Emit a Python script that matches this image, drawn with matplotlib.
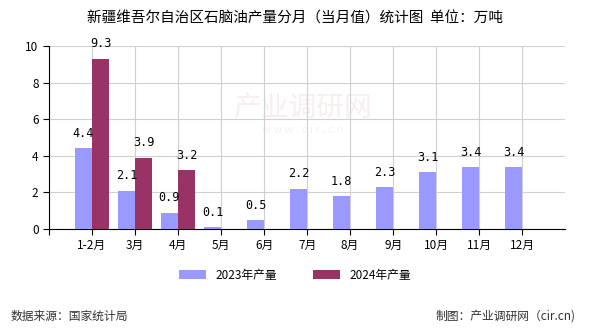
import matplotlib
matplotlib.use("Agg")
import matplotlib.pyplot as plt
import numpy as np

plt.rcParams['font.family'] = ['Noto Sans CJK SC', 'DejaVu Sans']

months = ["1-2月", "3月", "4月", "5月", "6月", "7月", "8月", "9月", "10月", "11月", "12月"]
y2023 = [4.4, 2.1, 0.9, 0.1, 0.5, 2.2, 1.8, 2.3, 3.1, 3.4, 3.4]
y2024 = [9.3, 3.9, 3.2]

c23 = "#9999FF"
c24 = "#993366"

fig = plt.figure(figsize=(5.9, 3.3), dpi=100)
ax = fig.add_axes([0.083, 0.306, 0.875, 0.555])

x = np.arange(len(months))
w = 0.4
b1 = ax.bar(x - w / 2, y2023, w, color=c23, label="2023年产量", zorder=3)
b2 = ax.bar(np.arange(len(y2024)) + w / 2, y2024, w, color=c24, label="2024年产量", zorder=3)

for xi, v in zip(x - w / 2, y2023):
    ax.text(xi, v + 0.45, f"{v}", ha="center", va="bottom", fontsize=8.5,
            family="DejaVu Sans Mono", zorder=4)
for xi, v in zip(np.arange(len(y2024)) + w / 2, y2024):
    ax.text(xi, v + 0.45, f"{v}", ha="center", va="bottom", fontsize=8.5,
            family="DejaVu Sans Mono", zorder=4)

# faint watermark
ax.text(4.9, 6.6, "产业调研网", fontsize=20, color="#f8eeee", ha="center",
        va="center", zorder=1)
ax.text(4.9, 5.4, "w w w . c i r . c n", fontsize=8, color="#f3f3f6",
        ha="center", va="center", zorder=1)

ax.set_xlim(-1, 11)
ax.set_ylim(0, 10)
ax.set_yticks([0, 2, 4, 6, 8, 10])
ax.set_xticks(np.arange(-1, len(months)))
ax.set_xticklabels([""] + months)
ax.tick_params(labelsize=8.5, length=4, color="black")
ax.grid(True, color="#d0d0d0", lw=0.8, zorder=0)
for s in ["top", "right"]:
    ax.spines[s].set_visible(False)

fig.legend(handles=[b1, b2], loc="center", bbox_to_anchor=(0.5, 0.165), ncol=2,
           frameon=False, fontsize=8.5, handlelength=2.3, handleheight=0.8,
           columnspacing=3)

fig.text(0.5, 0.945, "新疆维吾尔自治区石脑油产量分月（当月值）统计图  单位：万吨",
         ha="center", va="center", fontsize=10.5, fontweight="medium")
fig.text(0.018, 0.042, "数据来源：国家统计局", fontsize=8.5, va="center", color="#333333")
fig.text(0.975, 0.042, "制图：产业调研网（cir.cn)", fontsize=8.5, va="center",
         ha="right", color="#333333")

fig.savefig("out.png", dpi=100)
